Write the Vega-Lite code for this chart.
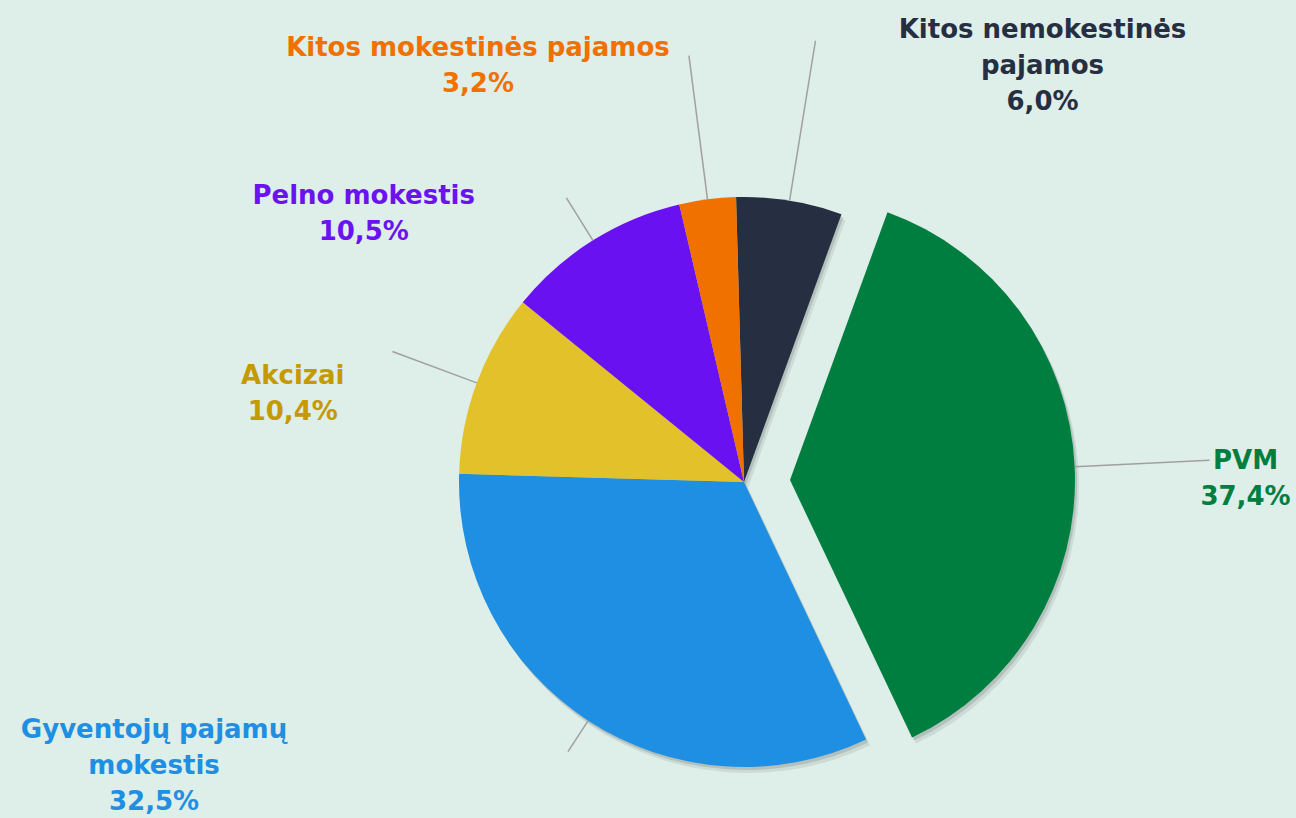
{
  "$schema": "https://vega.github.io/schema/vega-lite/v6.json",
  "width": 590,
  "height": 600,
  "autosize": {"type": "none"},
  "padding": {"left": 449, "top": 182, "right": 257, "bottom": 36},
  "background": "#deeee8",
  "config": {"view": {"stroke": null}},
  "data": {
    "values": [
      {"category": "Kitos nemokestinės pajamos", "value": 6.0, "order": 1, "label": ["Kitos nemokestinės", "pajamos", "6,0%"]},
      {"category": "PVM", "value": 37.4, "order": 2, "label": ["PVM", "37,4%"]},
      {"category": "Gyventojų pajamų mokestis", "value": 32.5, "order": 3, "label": ["Gyventojų pajamų", "mokestis", "32,5%"]},
      {"category": "Akcizai", "value": 10.4, "order": 4, "label": ["Akcizai", "10,4%"]},
      {"category": "Pelno mokestis", "value": 10.5, "order": 5, "label": ["Pelno mokestis", "10,5%"]},
      {"category": "Kitos mokestinės pajamos", "value": 3.2, "order": 6, "label": ["Kitos mokestinės pajamos", "3,2%"]}
    ]
  },
  "encoding": {
    "theta": {"field": "value", "type": "quantitative", "stack": true, "scale": {"domain": [0, 100], "range": [-0.0279, 6.2553]}},
    "order": {"field": "order", "type": "quantitative"}
  },
  "layer": [
    {
      "mark": {"type": "arc", "outerRadius": 285, "fill": "#000000", "xOffset": 2, "yOffset": 3},
      "encoding": {"opacity": {"condition": {"test": "datum.category === 'PVM'", "value": 0}, "value": 0.12}}
    },
    {
      "mark": {"type": "arc", "outerRadius": 285, "fill": "#000000", "xOffset": 4, "yOffset": 6},
      "encoding": {"opacity": {"condition": {"test": "datum.category === 'PVM'", "value": 0}, "value": 0.08}}
    },
    {
      "mark": {"type": "arc", "outerRadius": 285, "fill": "#000000", "xOffset": 48, "yOffset": 1},
      "encoding": {"opacity": {"condition": {"test": "datum.category === 'PVM'", "value": 0.12}, "value": 0}}
    },
    {
      "mark": {"type": "arc", "outerRadius": 285, "fill": "#000000", "xOffset": 50, "yOffset": 4},
      "encoding": {"opacity": {"condition": {"test": "datum.category === 'PVM'", "value": 0.08}, "value": 0}}
    },
    {
      "mark": {"type": "arc", "outerRadius": 285},
      "encoding": {
        "color": {"field": "category", "type": "nominal", "legend": null,
          "scale": {"domain": ["Kitos nemokestinės pajamos", "PVM", "Gyventojų pajamų mokestis", "Akcizai", "Pelno mokestis", "Kitos mokestinės pajamos"],
                    "range": ["#262f42", "#007e40", "#1e8fe3", "#e3c12b", "#6a11f2", "#f07000"]}},
        "opacity": {"condition": {"test": "datum.category === 'PVM'", "value": 0}, "value": 1}
      }
    },
    {
      "mark": {"type": "arc", "outerRadius": 285, "xOffset": 46, "yOffset": -2},
      "encoding": {
        "color": {"field": "category", "type": "nominal", "legend": null},
        "opacity": {"condition": {"test": "datum.category === 'PVM'", "value": 1}, "value": 0}
      }
    },
    {
      "mark": {"type": "arc", "innerRadius": 285, "outerRadius": 447, "padAngle": 3, "filled": false, "stroke": "#a0a0a0", "strokeWidth": 1.5},
      "encoding": {"strokeOpacity": {"condition": {"test": "datum.category === 'Kitos nemokestinės pajamos'", "value": 1}, "value": 0}}
    },
    {
      "mark": {"type": "arc", "innerRadius": 285, "outerRadius": 430, "padAngle": 3, "filled": false, "stroke": "#a0a0a0", "strokeWidth": 1.5},
      "encoding": {"strokeOpacity": {"condition": {"test": "datum.category === 'Kitos mokestinės pajamos'", "value": 1}, "value": 0}}
    },
    {
      "mark": {"type": "arc", "innerRadius": 285, "outerRadius": 335, "padAngle": 3, "filled": false, "stroke": "#a0a0a0", "strokeWidth": 1.5},
      "encoding": {"strokeOpacity": {"condition": {"test": "datum.category === 'Pelno mokestis'", "value": 1}, "value": 0}}
    },
    {
      "mark": {"type": "arc", "innerRadius": 285, "outerRadius": 375, "padAngle": 3, "filled": false, "stroke": "#a0a0a0", "strokeWidth": 1.5},
      "encoding": {"strokeOpacity": {"condition": {"test": "datum.category === 'Akcizai'", "value": 1}, "value": 0}}
    },
    {
      "mark": {"type": "arc", "innerRadius": 285, "outerRadius": 322, "padAngle": 3, "filled": false, "stroke": "#a0a0a0", "strokeWidth": 1.5},
      "encoding": {"strokeOpacity": {"condition": {"test": "datum.category === 'Gyventojų pajamų mokestis'", "value": 1}, "value": 0}}
    },
    {
      "mark": {"type": "arc", "innerRadius": 285, "outerRadius": 420, "padAngle": 3, "filled": false, "stroke": "#a0a0a0", "strokeWidth": 1.5, "xOffset": 46, "yOffset": -2},
      "encoding": {"strokeOpacity": {"condition": {"test": "datum.category === 'PVM'", "value": 1}, "value": 0}}
    },
    {
      "mark": {"type": "text", "font": "DejaVu Sans", "fontWeight": "bold", "fontSize": 26, "lineHeight": 36, "align": "center", "baseline": "alphabetic", "radius": 447, "dx": 227, "dy": -3, "fill": "#262f42"},
      "encoding": {"text": {"condition": {"test": "datum.category === 'Kitos nemokestinės pajamos'", "field": "label", "type": "nominal"}, "value": ""}}
    },
    {
      "mark": {"type": "text", "font": "DejaVu Sans", "fontWeight": "bold", "fontSize": 26, "lineHeight": 36, "align": "center", "baseline": "alphabetic", "radius": 430, "dx": -211, "dy": 0, "fill": "#f07000"},
      "encoding": {"text": {"condition": {"test": "datum.category === 'Kitos mokestinės pajamos'", "field": "label", "type": "nominal"}, "value": ""}}
    },
    {
      "mark": {"type": "text", "font": "DejaVu Sans", "fontWeight": "bold", "fontSize": 26, "lineHeight": 36, "align": "center", "baseline": "alphabetic", "radius": 340, "dx": -200, "dy": 10, "fill": "#6a12f0"},
      "encoding": {"text": {"condition": {"test": "datum.category === 'Pelno mokestis'", "field": "label", "type": "nominal"}, "value": ""}}
    },
    {
      "mark": {"type": "text", "font": "DejaVu Sans", "fontWeight": "bold", "fontSize": 26, "lineHeight": 36, "align": "center", "baseline": "alphabetic", "radius": 380, "dx": -95, "dy": 34, "fill": "#c49a00"},
      "encoding": {"text": {"condition": {"test": "datum.category === 'Akcizai'", "field": "label", "type": "nominal"}, "value": ""}}
    },
    {
      "mark": {"type": "text", "font": "DejaVu Sans", "fontWeight": "bold", "fontSize": 26, "lineHeight": 36, "align": "center", "baseline": "alphabetic", "radius": 460, "dx": 42, "dy": 8, "fill": "#007e40"},
      "encoding": {"text": {"condition": {"test": "datum.category === 'PVM'", "field": "label", "type": "nominal"}, "value": ""}}
    },
    {
      "mark": {"type": "text", "font": "DejaVu Sans", "fontWeight": "bold", "fontSize": 26, "lineHeight": 36, "align": "center", "baseline": "alphabetic", "radius": 320, "dx": -415, "dy": -12, "fill": "#1e8fe3"},
      "encoding": {"text": {"condition": {"test": "datum.category === 'Gyventojų pajamų mokestis'", "field": "label", "type": "nominal"}, "value": ""}}
    }
  ]
}
